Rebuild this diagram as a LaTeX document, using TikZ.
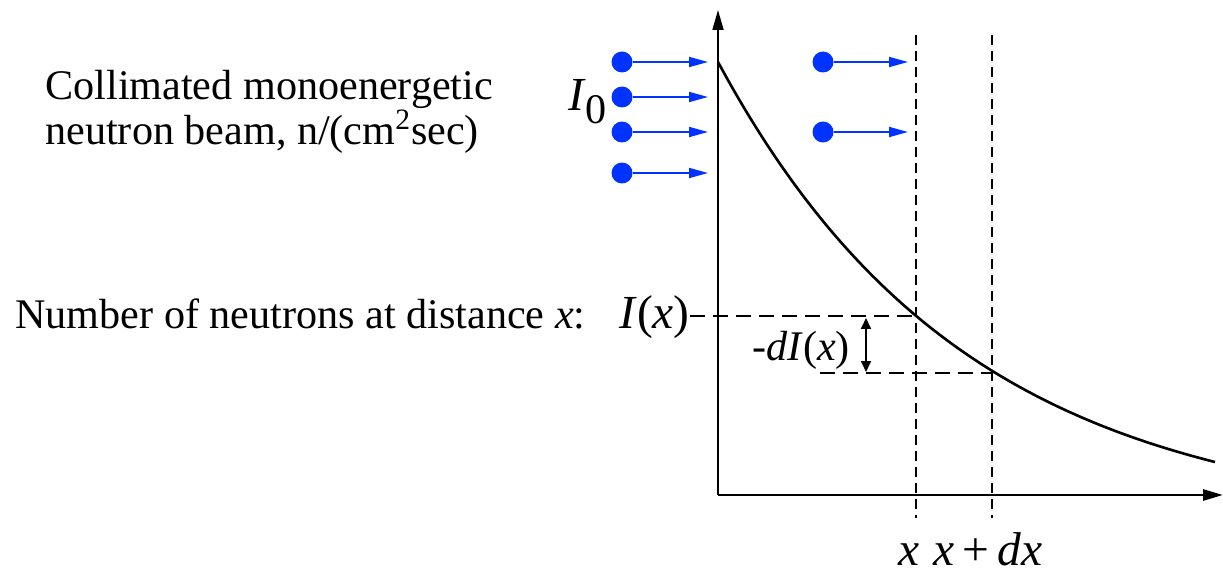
\documentclass[tikz,border=0pt]{standalone}
\usepackage{fontspec}
\setmainfont{Liberation Serif}
\newfontfamily\timesfont{Liberation Serif}
\usetikzlibrary{arrows.meta}
\definecolor{beamblue}{RGB}{0,51,255}
\tikzset{
  dot/.style={circle,fill=beamblue,inner sep=0pt,minimum size=0.42cm},
  beam/.style={beamblue,line width=1pt,-{Triangle[length=0.38cm,width=0.2cm]}},
  lbl/.style={font=\timesfont\fontsize{24}{26}\selectfont,inner sep=0pt},
  biglbl/.style={font=\timesfont\fontsize{27}{30}\selectfont,inner sep=0pt},
  level/.style={line width=1.5pt,dash pattern=on 0.3cm off 0.16cm},
}
\begin{document}
\begin{tikzpicture}[x=0.02cm,y=-0.02cm]
  \useasboundingbox (0,0) rectangle (1223,574);

  % axes
  \coordinate (o) at (718,495);
  \coordinate (ytop) at (718,10);
  \coordinate (xend) at (1223,495);
  \draw[line width=1pt,-{Triangle[length=0.4cm,width=0.22cm]}] (o) -- (ytop);
  \draw[line width=1.6pt,-{Triangle[length=0.4cm,width=0.22cm]}] (o) -- (xend);

  % attenuation curve
  \draw[line width=1.5pt] plot[domain=0:497,samples=120]
    ({718+\x},{495-(463*exp(-0.004017*\x)-30)});

  % points on the curve
  \coordinate (px) at (916,316);
  \coordinate (pdx) at (992,373);

  % vertical markers
  \draw[line width=0.8pt,dash pattern=on 0.2cm off 0.12cm] (916,35) -- (916,518);
  \draw[line width=1.5pt,dash pattern=on 0.2cm off 0.12cm] (992,35) -- (992,518);

  % labels
  \node[lbl,align=left,anchor=west] (beamtxt) at (45,112)
    {Collimated monoenergetic\\neutron beam, n/(cm\textsuperscript{2}sec)};
  \node[lbl,anchor=base west] (numtxt) at (15,328) {Number of neutrons at distance \textit{x}:};
  \node[biglbl] (I0) at (588,102) {\textit{I}\textsubscript{\fontsize{24}{26}\selectfont 0}};
  \node[biglbl,anchor=base east] (Ix) at (690,328) {\textit{I}(\textit{x})};
  \node[lbl] (dI) at (801,350) {-\textit{dI}(\textit{x})};
  \node[biglbl,anchor=base] (xl) at (909,565) {\textit{x}};
  \node[biglbl,anchor=base] (xdxl) at (988,565) {\textit{x}\,+\,\textit{dx}};

  % dashed levels
  \draw[level] (Ix.east |- px) -- (px);
  \draw[level] (820,373) -- (pdx);
  \draw[line width=1pt,{Triangle[length=0.22cm,width=0.2cm]}-{Triangle[length=0.22cm,width=0.2cm]}]
    (866,318) -- (866,372);

  % incoming beam
  \foreach \y [count=\i] in {62,97,132,173} {
    \node[dot] (b\i) at (622,\y) {};
    \coordinate (e\i) at (708,\y);
    \draw[beam] (b\i) -- (e\i);
  }
  % beam at distance x
  \foreach \y [count=\i] in {62,132} {
    \node[dot] (c\i) at (823,\y) {};
    \coordinate (f\i) at (908,\y);
    \draw[beam] (c\i) -- (f\i);
  }
\end{tikzpicture}
\end{document}
